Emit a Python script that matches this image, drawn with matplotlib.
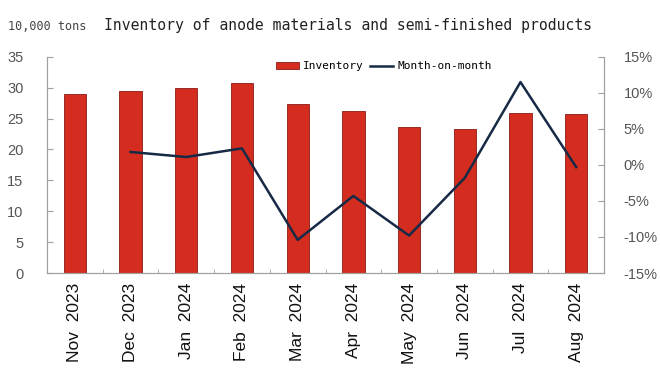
import numpy as np
import matplotlib.pyplot as plt
from matplotlib.ticker import FuncFormatter

months = ["Nov  2023", "Dec  2023", "Jan  2024", "Feb  2024", "Mar  2024",
          "Apr  2024", "May  2024", "Jun  2024", "Jul  2024", "Aug  2024"]
inventory = [29.0, 29.5, 29.9, 30.7, 27.4, 26.2, 23.7, 23.3, 25.9, 25.8]
mom = [np.nan, 1.8, 1.1, 2.3, -10.4, -4.3, -9.8, -1.8, 11.5, -0.3]

fig = plt.figure(figsize=(6.6, 3.74), dpi=100)
ax = fig.add_axes([0.0712, 0.27, 0.844, 0.578])
ax2 = ax.twinx()

grey = "#a0a0a0"
x = np.arange(len(months))

bars = ax.bar(x, inventory, width=0.4, color="#d42d20", edgecolor="#8a1a12", linewidth=0.6,
              label="Inventory", zorder=2)
line, = ax2.plot(x, mom, color="#172a45", lw=1.8, label="Month-on-month", zorder=3)

ax.set_xlim(-0.5, len(months) - 0.5)
ax.set_ylim(0, 35)
ax.set_yticks(np.arange(0, 36, 5))
ax2.set_ylim(-15, 15)
ax2.set_yticks(np.arange(-15, 16, 5))
ax2.yaxis.set_major_formatter(FuncFormatter(lambda v, p: f"{v:.0f}%"))

ax.set_xticks(x)
ax.set_xticklabels(months, rotation=90, fontsize=12.5, color="#111111", family="Liberation Sans")
ax.set_xticks(np.arange(-0.5, len(months), 1), minor=True)
ax.tick_params(axis="x", which="major", length=0, pad=7)
ax.tick_params(axis="x", which="minor", direction="in", length=3, color=grey)

ax.tick_params(axis="y", direction="in", length=4, color=grey, labelcolor="#555555",
               labelsize=10.5, pad=17)
ax2.tick_params(axis="y", direction="in", length=4, color=grey, labelcolor="#555555",
                labelsize=10.5, pad=14)
for a in (ax, ax2):
    a.spines["top"].set_visible(False)
    for s in ("left", "right", "bottom"):
        a.spines[s].set_color(grey)
        a.spines[s].set_linewidth(0.8)
    for lab in a.get_yticklabels():
        lab.set_family("Liberation Sans")

ax2.legend([bars, line], ["Inventory", "Month-on-month"], loc="upper center",
           bbox_to_anchor=(0.605, 1.025), ncol=2, frameon=False, handlelength=2.0,
           columnspacing=0.6, handletextpad=0.4,
           prop={"family": "DejaVu Sans Mono", "size": 8})

fig.text(0.012, 0.92, "10,000 tons", fontsize=8.5, color="#444444", family="DejaVu Sans Mono")
fig.text(0.158, 0.92, "Inventory of anode materials and semi-finished products",
         fontsize=10.6, color="#222222", family="DejaVu Sans Mono")

fig.savefig("out.png", dpi=100)
